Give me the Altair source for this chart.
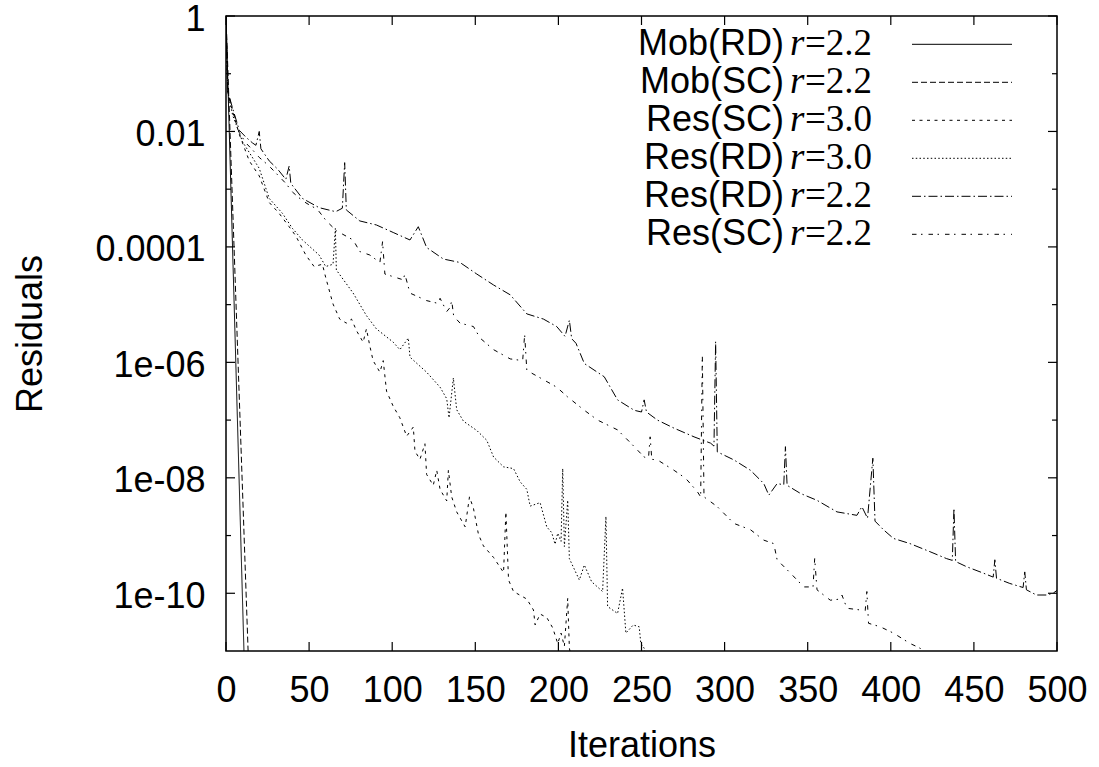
import json
import altair as alt
import pandas as pd

# ---------------- data (x = iteration, lg = log10(residual)) -------------
keys = ["Mob(RD) r=2.2", "Mob(SC) r=2.2", "Res(SC) r=3.0",
        "Res(RD) r=3.0", "Res(RD) r=2.2", "Res(SC) r=2.2"]
legend_names = ["Mob(RD)", "Mob(SC)", "Res(SC)", "Res(RD)", "Res(RD)", "Res(SC)"]
legend_r = ["=2.2", "=2.2", "=3.0", "=3.0", "=2.2", "=2.2"]

mob_rd_it = [0, 11]
mob_rd_lg = [0, -11.2]

mob_sc_it = [0, 13.3]
mob_sc_lg = [0, -11.0]

res_sc30_it = [0, 1, 2, 8, 14, 20, 26, 32, 38, 42, 48, 53, 58, 60, 64.4, 68.4, 72.4, 75.5,
               78.5, 82.5, 84.5, 86.5, 88.5, 92.6, 94.6, 96.6, 100.6, 104.6, 108.7, 112.7,
               113.7, 116.7, 119.7, 120.7, 124.7, 126.8, 128.8, 132.8, 133.8, 135.8, 138.8,
               143.9, 146.5, 148.9, 151.9, 154.9, 161, 167, 168.4, 170, 173, 181, 185, 186,
               189, 193, 196.6, 199.6, 201.6, 203.6, 205.6, 206.6, 209]
res_sc30_lg = [0, -1.3, -1.46, -2.05, -2.51, -2.77, -3.23, -3.42, -3.65, -3.81, -4.14, -4.34,
               -4.30, -4.53, -4.99, -5.25, -5.32, -5.25, -5.45, -5.65, -5.42, -5.71, -5.97,
               -6.17, -5.97, -6.50, -6.76, -6.96, -7.28, -7.12, -7.54, -7.68, -7.41, -7.94,
               -8.13, -7.87, -8.20, -8.40, -7.87, -8.33, -8.59, -8.85, -8.33, -8.53, -8.98,
               -9.18, -9.38, -9.64, -8.59, -9.77, -9.97, -10.10, -10.29, -10.55, -10.36,
               -10.42, -10.60, -10.87, -10.69, -10.92, -10.09, -10.95, -11.3]

res_rd30_it = [0, 1, 4, 10, 20, 26, 34, 40, 46, 56, 60, 64.4, 65.8, 66.4, 76.5, 84.5, 90.5,
               100.6, 104.6, 109.7, 110.7, 120.7, 128.8, 132.8, 134.2, 136.8, 138.8, 142.9,
               150.9, 156.9, 161, 167, 173, 177, 181, 183, 189, 193, 196, 198, 199.6, 201.6,
               202.6, 203.6, 205.6, 206.6, 212.6, 215.6, 220, 226.6, 228.6, 229.6, 235.6,
               238.6, 240.6, 245, 248.6, 249.6, 251.6, 254]
res_rd30_lg = [0, -1.3, -1.72, -2.18, -2.64, -3.16, -3.42, -3.68, -3.88, -4.14, -4.34, -4.30,
               -3.68, -4.40, -4.80, -5.19, -5.42, -5.65, -5.78, -5.58, -5.91, -6.17, -6.43,
               -6.63, -6.96, -6.27, -6.82, -7.02, -7.18, -7.35, -7.64, -7.81, -7.84, -8.07,
               -8.20, -8.49, -8.43, -8.85, -8.95, -9.15, -8.96, -9.10, -7.84, -9.19, -8.39,
               -9.40, -9.77, -9.51, -9.80, -9.97, -8.67, -10.23, -10.35, -9.91, -10.69,
               -10.55, -10.58, -10.87, -10.95, -11.3]

res_rd22_it = [0, 1, 4, 8, 12, 16, 18, 20, 21, 26, 31, 36, 38, 39, 46, 56, 66, 70, 71.4, 72.4,
               80.5, 90.5, 100.6, 110.7, 115.7, 120.7, 130.8, 140.8, 150.9, 161, 171, 181,
               191, 199, 204, 206.6, 208, 210.6, 215.6, 227.6, 235.6, 245.6, 250, 251.6, 253,
               259.6, 269.6, 281.6, 291.6, 293.6, 294.6, 295.6, 305.6, 315.6, 323.6, 326.6,
               331.6, 335.6, 336.6, 337.6, 345.6, 355.6, 367.6, 379.6, 382.6, 386, 389.2,
               390.5, 395.6, 401.6, 411.6, 423.6, 433.6, 437, 438, 439, 445.6, 455.6, 461.6,
               462.6, 463.6, 471.6, 479.6, 480.6, 481.6, 487.6, 493.6, 497.6, 500]
res_rd22_lg = [0, -1.3, -1.6, -1.98, -2.1, -2.2, -2.24, -2.0, -2.3, -2.51, -2.65, -2.83, -2.6,
               -2.9, -3.16, -3.32, -3.39, -3.33, -2.54, -3.36, -3.55, -3.62, -3.75, -3.88,
               -3.65, -4.01, -4.21, -4.27, -4.47, -4.66, -4.83, -5.16, -5.25, -5.38, -5.55,
               -5.27, -5.59, -5.67, -6.02, -6.25, -6.65, -6.83, -6.86, -6.65, -6.86, -7.0,
               -7.14, -7.29, -7.40, -7.45, -5.64, -7.55, -7.69, -7.87, -8.10, -8.30, -8.10,
               -8.12, -7.46, -8.13, -8.27, -8.39, -8.59, -8.65, -8.50, -8.70, -7.66, -8.75,
               -8.90, -9.05, -9.14, -9.28, -9.40, -9.43, -8.53, -9.45, -9.54, -9.65, -9.72,
               -9.42, -9.74, -9.83, -9.90, -9.63, -9.94, -10.03, -10.03, -10.0, -9.95]

res_sc22_it = [0, 1, 4, 8, 12, 16, 20, 26, 30, 36, 40, 46, 50, 55, 60.4, 66.4, 76.5, 80.5,
               86.5, 92.6, 94.2, 95.6, 106.6, 107.6, 110.7, 120.7, 127.8, 128.8, 132.8, 134.8,
               135.8, 137, 140.8, 148.9, 152.9, 161, 171, 178.5, 179.7, 181, 191, 199, 205.6,
               215.6, 223.6, 235.6, 243.6, 251.6, 254.2, 255.2, 256.2, 259.6, 269.6, 276.6,
               283.6, 285.6, 286.6, 287.6, 295.6, 305.6, 315.6, 323.6, 329.6, 331.6, 339.6,
               347.6, 353.2, 354.2, 355.6, 363.6, 369.6, 370.6, 373.6, 384.6, 385.6, 386.6,
               393.6, 401.6, 411.6, 417.6, 425]
res_sc22_lg = [0, -1.3, -1.62, -2.02, -2.2, -2.32, -2.45, -2.6, -2.72, -2.9, -3.05, -3.2,
               -3.27, -3.35, -3.55, -3.72, -3.88, -4.08, -4.14, -4.27, -3.91, -4.47, -4.57,
               -4.47, -4.80, -4.93, -4.98, -4.89, -5.12, -5.05, -4.93, -5.2, -5.32, -5.38,
               -5.58, -5.78, -5.94, -5.97, -5.52, -6.14, -6.30, -6.43, -6.60, -6.83, -7.0,
               -7.17, -7.40, -7.64, -7.66, -7.29, -7.68, -7.69, -7.87, -8.01, -8.24, -8.33,
               -5.88, -8.33, -8.50, -8.79, -8.90, -9.08, -9.14, -9.42, -9.65, -9.89, -9.89,
               -9.40, -9.94, -10.12, -10.10, -10.03, -10.26, -10.30, -9.97, -10.52, -10.58,
               -10.69, -10.87, -10.95, -11.3]

x_ticks = [0, 50, 100, 150, 200, 250, 300, 350, 400, 450, 500]
y_major = [1, 1e-2, 1e-4, 1e-6, 1e-8, 1e-10]
y_minor = [1e-1, 1e-3, 1e-5, 1e-7, 1e-9]
y_tick_labels = ["1", "0.01", "0.0001", "1e-06", "1e-08", "1e-10"]

# ---------------- build tables ----------------
its = [mob_rd_it, mob_sc_it, res_sc30_it, res_rd30_it, res_rd22_it, res_sc22_it]
lgs = [mob_rd_lg, mob_sc_lg, res_sc30_lg, res_rd30_lg, res_rd22_lg, res_sc22_lg]
rows = []
for k, xs, ls in zip(keys, its, lgs):
    for i, (xv, lv) in enumerate(zip(xs, ls)):
        rows.append({"series": k, "iter": xv, "res": 10 ** lv, "ord": i})
df = pd.DataFrame(rows)

W, H = 831, 635
FONT = "Liberation Sans"
SERIF = "Liberation Serif"
FS = 36
FS_SERIF = 37

dashes = [[1, 0], [6, 3], [3, 4.5], [1.5, 2.25], [9, 3, 1.5, 3], [4.5, 4.5, 1.5, 6]]
dash_scale = alt.Scale(domain=keys, range=dashes)

x_scale = alt.Scale(domain=[0, 500], nice=False, zero=False)
y_scale = alt.Scale(type="log", domain=[1e-11, 1], nice=False)

label_expr = json.dumps(y_tick_labels) + "[round(-log(datum.value)/LN10/2)]"

x_axis = alt.Axis(values=x_ticks, title="Iterations", grid=False, ticks=False,
                  domain=False, labelFont=FONT, labelFontSize=FS, labelColor="black",
                  labelFlush=False, labelOverlap=False, labelPadding=22,
                  titleFont=FONT, titleFontSize=FS, titleFontWeight="normal",
                  titleColor="black", titleY=94, titleBaseline="middle")
y_axis = alt.Axis(values=y_major, labelExpr=label_expr, title="Residuals",
                  grid=False, ticks=False, domain=False, labelFont=FONT,
                  labelFontSize=FS, labelColor="black", labelOverlap=False,
                  labelFlush=False, labelPadding=21, labelOffset=3,
                  titleFont=FONT, titleFontSize=FS, titleFontWeight="normal",
                  titleColor="black", titleAngle=270, titleX=-196, titleY=H / 2,
                  titleBaseline="middle", titleAlign="center")

lines = alt.Chart(df).mark_line(strokeWidth=1, color="black", clip=True).encode(
    x=alt.X("iter:Q", scale=x_scale, axis=x_axis),
    y=alt.Y("res:Q", scale=y_scale, axis=y_axis),
    strokeDash=alt.StrokeDash("series:N", scale=dash_scale, legend=None),
    detail="series:N",
    order="ord:Q",
)

# inward ticks on all four sides (gnuplot style)
xt = pd.DataFrame({"t": x_ticks})
ymaj = pd.DataFrame({"t": y_major})
ymin = pd.DataFrame({"t": y_minor})

def xtick(y0, y1):
    return alt.Chart(xt).mark_rule(color="black", strokeWidth=1.2).encode(
        x=alt.X("t:Q", scale=x_scale, axis=x_axis), y=alt.value(y0), y2=alt.value(y1))

def ytick(dfv, x0, x1):
    return alt.Chart(dfv).mark_rule(color="black", strokeWidth=1.2).encode(
        y=alt.Y("t:Q", scale=y_scale, axis=y_axis), x=alt.value(x0), x2=alt.value(x1))

ticks = [xtick(H, H - 9), xtick(0, 9),
         ytick(ymaj, 0, 9), ytick(ymaj, W, W - 9),
         ytick(ymin, 0, 5), ytick(ymin, W, W - 5)]

# legend drawn inside the plot, top right
leg = pd.DataFrame({"series": keys, "name": legend_names, "rv": legend_r,
                    "ly": [28.3 + 38 * i for i in range(len(keys))]})
leg_text = alt.Chart(leg).mark_text(align="right", baseline="middle", font=FONT,
                                    fontSize=FS, color="black").encode(
    x=alt.value(558), y=alt.Y("ly:Q", scale=None), text="name:N")
leg_r = alt.Chart(leg).mark_text(align="left", baseline="middle", font=SERIF,
                                 fontStyle="italic", fontSize=FS_SERIF, color="black",
                                 text="r").encode(
    x=alt.value(564), y=alt.Y("ly:Q", scale=None))
leg_rv = alt.Chart(leg).mark_text(align="left", baseline="middle", font=SERIF,
                                  fontSize=FS_SERIF, color="black").encode(
    x=alt.value(579), y=alt.Y("ly:Q", scale=None), text="rv:N")
leg_line = alt.Chart(leg).mark_rule(strokeWidth=1, color="black").encode(
    x=alt.value(686), x2=alt.value(786), y=alt.Y("ly:Q", scale=None),
    strokeDash=alt.StrokeDash("series:N", scale=dash_scale, legend=None))

chart = alt.layer(lines, *ticks, leg_text, leg_r, leg_rv, leg_line).properties(
    width=W, height=H,
    autosize=alt.AutoSizeParams(type="none"),
    padding={"left": 226, "top": 16, "right": 1099 - 226 - W, "bottom": 767 - 16 - H},
    background="white",
).configure_view(stroke="black", strokeWidth=1.5)

chart.save("out.html", embed_options={"renderer": "svg", "actions": False})
